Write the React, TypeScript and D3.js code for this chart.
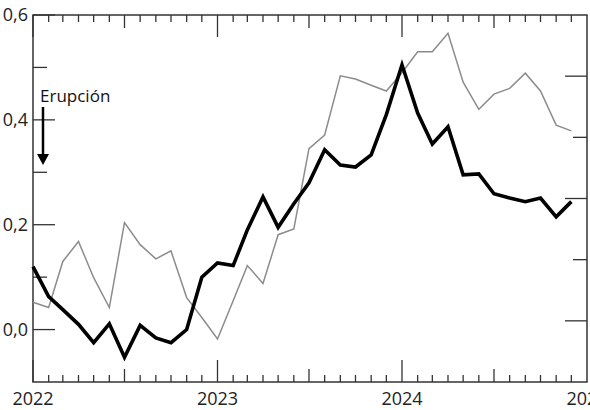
import { useEffect, useRef } from "react";
import * as d3 from "d3";

const START = new Date(2022, 0, 1);
const END = new Date(2025, 0, 1);

// one point per month, Jan 2022 .. Dec 2024
const months = d3.timeMonths(START, END);

const seriesBold = [
  0.12, 0.063, 0.038, 0.01, -0.025, 0.011, -0.053, 0.008, -0.016, -0.025, 0.0, 0.1,
  0.127, 0.122, 0.19, 0.253, 0.195, 0.24, 0.28, 0.343, 0.314, 0.31, 0.333, 0.41,
  0.505, 0.413, 0.354, 0.387, 0.295, 0.297, 0.259, 0.251, 0.244, 0.251, 0.215, 0.244,
];

const seriesThin = [
  0.052, 0.042, 0.13, 0.168, 0.099, 0.042, 0.204, 0.162, 0.135, 0.15, 0.061, 0.023,
  -0.018, 0.055, 0.122, 0.088, 0.181, 0.192, 0.345, 0.371, 0.484, 0.478, 0.466, 0.455,
  0.49, 0.53, 0.53, 0.565, 0.472, 0.42, 0.449, 0.46, 0.489, 0.455, 0.39, 0.379,
];

const yMajor = [0.0, 0.2, 0.4, 0.6];
const yMinor = [0.1, 0.3, 0.5];
const yearTicks = [2022, 2023, 2024, 2025];
const eventLabel = "Erupción";

const width = 590;
const height = 410;
const margin = { top: 15, right: 3, bottom: 28, left: 33 };
const axisColor = "#333";
const font = "'Open Sans', sans-serif";

export default function App() {
  const svgRef = useRef<SVGSVGElement>(null);

  useEffect(() => {
    if (!svgRef.current) return;
    const svg = d3.select(svgRef.current);
    svg.selectAll("*").remove();

    const x0 = margin.left;
    const x1 = width - margin.right;
    const y0 = height - margin.bottom;
    const y1 = margin.top;

    const x = d3.scaleTime().domain([START, END]).range([x0, x1]);
    const y = d3.scaleLinear().domain([-0.1, 0.6]).range([y0, y1]);
    // unlabelled right-hand scale
    const yRight = d3.scaleLinear().domain([0, 6]).range([y0, y1]);

    const g = svg.append("g");

    // month ticks on bottom and top
    const allMonths = d3.timeMonths(START, END);
    allMonths.forEach((m) => {
      const len = m.getMonth() === 0 ? 22 : m.getMonth() === 6 ? 13 : 7;
      const px = x(m);
      g.append("line")
        .attr("x1", px).attr("x2", px)
        .attr("y1", y0).attr("y2", y0 - len)
        .attr("stroke", axisColor).attr("stroke-width", 1.3);
      g.append("line")
        .attr("x1", px).attr("x2", px)
        .attr("y1", y1).attr("y2", y1 + len)
        .attr("stroke", axisColor).attr("stroke-width", 1.3);
    });

    // left ticks
    yMajor.forEach((v) => {
      g.append("line")
        .attr("x1", x0).attr("x2", x0 + 22)
        .attr("y1", y(v)).attr("y2", y(v))
        .attr("stroke", axisColor).attr("stroke-width", 1.3);
    });
    yMinor.forEach((v) => {
      g.append("line")
        .attr("x1", x0).attr("x2", x0 + 14)
        .attr("y1", y(v)).attr("y2", y(v))
        .attr("stroke", axisColor).attr("stroke-width", 1.3);
    });

    // right ticks
    [1, 2, 3, 4, 5].forEach((v) => {
      const len = v % 2 === 1 ? 22 : 14;
      g.append("line")
        .attr("x1", x1).attr("x2", x1 - len)
        .attr("y1", yRight(v)).attr("y2", yRight(v))
        .attr("stroke", axisColor).attr("stroke-width", 1.3);
    });

    // frame
    g.append("rect")
      .attr("x", x0).attr("y", y1)
      .attr("width", x1 - x0).attr("height", y0 - y1)
      .attr("fill", "none")
      .attr("stroke", axisColor)
      .attr("stroke-width", 1.5);

    // y labels
    g.selectAll("text.ylab")
      .data(yMajor)
      .join("text")
      .attr("class", "ylab")
      .attr("x", x0 - 5)
      .attr("y", (d) => y(d))
      .attr("dy", "0.35em")
      .attr("text-anchor", "end")
      .attr("font-family", font)
      .attr("font-size", 18)
      .attr("fill", "#222")
      .text((d) => d3.format(".1f")(d).replace(".", ","));

    // x labels
    g.selectAll("text.xlab")
      .data(yearTicks)
      .join("text")
      .attr("class", "xlab")
      .attr("x", (d) => x(new Date(d, 0, 1)))
      .attr("y", height - 5)
      .attr("text-anchor", "middle")
      .attr("font-family", font)
      .attr("font-size", 18)
      .attr("fill", "#222")
      .text((d) => String(d));

    const line = d3
      .line<number>()
      .x((_, i) => x(months[i]))
      .y((d) => y(d));

    g.append("path")
      .attr("d", line(seriesThin))
      .attr("fill", "none")
      .attr("stroke", "#8c8c8c")
      .attr("stroke-width", 1.5)
      .attr("stroke-linejoin", "miter");

    g.append("path")
      .attr("d", line(seriesBold))
      .attr("fill", "none")
      .attr("stroke", "#000")
      .attr("stroke-width", 3.6)
      .attr("stroke-linejoin", "miter");

    // eruption marker
    const ax = x0 + 10;
    g.append("text")
      .attr("x", x0 + 7)
      .attr("y", 102)
      .attr("font-family", font)
      .attr("font-size", 17)
      .attr("fill", "#111")
      .text(eventLabel);
    g.append("line")
      .attr("x1", ax).attr("x2", ax)
      .attr("y1", 107).attr("y2", 156)
      .attr("stroke", "#000")
      .attr("stroke-width", 2.5);
    g.append("path")
      .attr("d", `M${ax - 6},154 L${ax + 6},154 L${ax},165 Z`)
      .attr("fill", "#000");
  }, []);

  return (
    <svg
      ref={svgRef}
      width={width}
      height={height}
      style={{ position: "absolute", left: 0, top: 0, background: "#fff" }}
    />
  );
}
